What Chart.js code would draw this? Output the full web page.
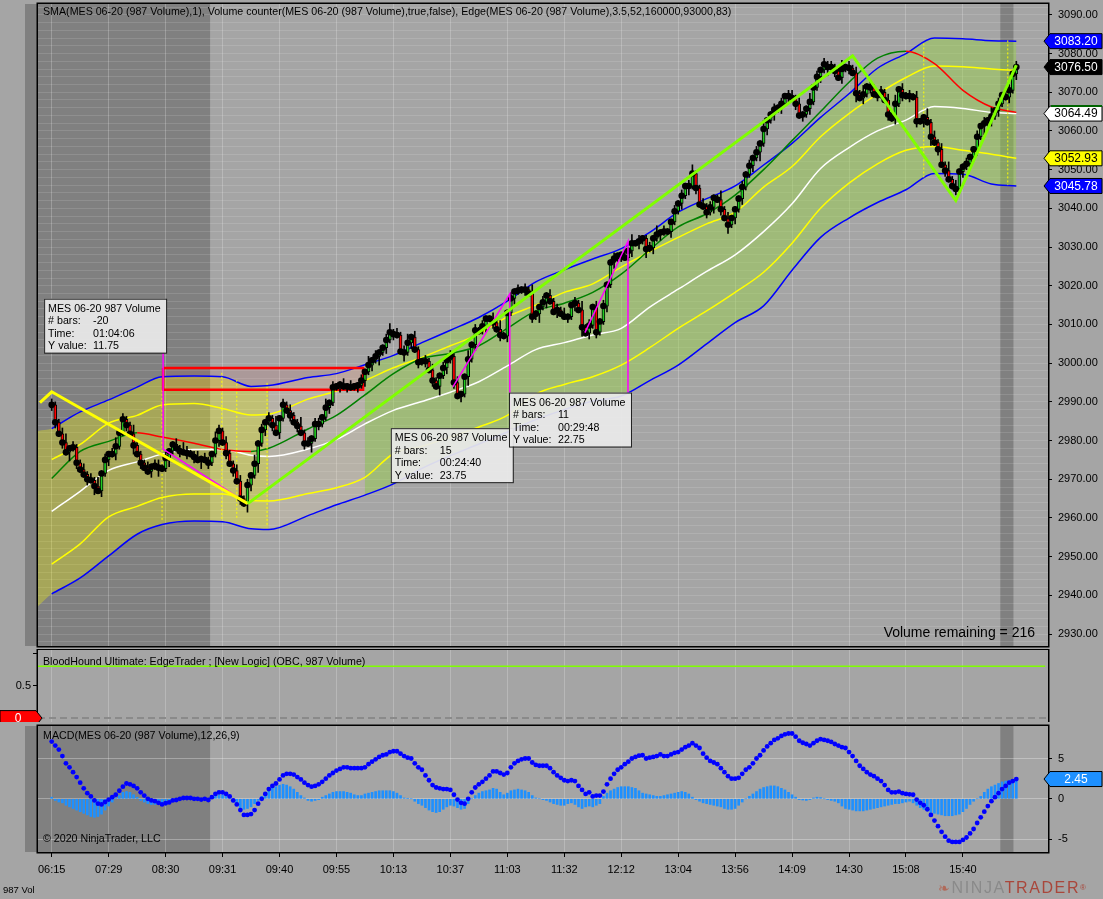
<!DOCTYPE html>
<html>
<head>
<meta charset="utf-8">
<title>MES 06-20 987 Volume</title>
<script src="https://cdn.jsdelivr.net/npm/chart.js@4.4.0/dist/chart.umd.min.js"></script>
<style>
  html, body { margin:0; padding:0; width:1103px; height:899px; overflow:hidden; background:#a5a5a5; font-family:Arial,"Liberation Sans",sans-serif; }
  canvas { position:absolute; left:0; }
  .lbl { position:absolute; font-size:10.67px; line-height:13px; color:#000; white-space:nowrap; }
</style>
</head>
<body>
<canvas id="priceChart" width="1103" height="650" style="top:0"></canvas>
<canvas id="edgeChart" width="1103" height="74" style="top:649px"></canvas>
<canvas id="macdChart" width="1103" height="177" style="top:722px"></canvas>
<div class="lbl" style="left:43px;top:5px">SMA(MES 06-20 (987 Volume),1), Volume counter(MES 06-20 (987 Volume),true,false), Edge(MES 06-20 (987 Volume),3.5,52,160000,93000,83)</div>
<div class="lbl" id="volRemain" style="right:68px;top:624px;font-size:14px;line-height:16px"></div>
<div class="lbl" style="left:43px;top:655px">BloodHound Ultimate: EdgeTrader ; [New Logic] (OBC, 987 Volume)</div>
<div class="lbl" style="left:43px;top:729px">MACD(MES 06-20 (987 Volume),12,26,9)</div>
<div class="lbl" style="left:43px;top:832px">© 2020 NinjaTrader, LLC</div>
<div class="lbl" style="left:3px;top:884px;font-size:9.5px;line-height:11px">987 Vol</div>
<div class="lbl" style="left:938px;top:879px;font-size:16px;line-height:18px;letter-spacing:1.6px"><span style="color:#b06a5a;font-size:14px">&#x2767;</span><span style="color:#8a8a8a">NINJA</span><span style="color:#a9473b">TRADER</span><span style="font-size:8px;color:#a9473b;vertical-align:top">®</span></div>
<script>
    var FONT = 'Arial, "Liberation Sans", sans-serif';
    Chart.defaults.font.family = FONT;
    Chart.defaults.font.size = 11;
    Chart.defaults.color = '#000';

    // ---- data ----
    var timeLabels = ['06:15','07:29','08:30','09:31','09:40','09:55','10:13','10:37','11:03','11:32','12:12','13:04','13:56','14:09','14:30','15:08','15:40'];

    var firstOpen = 2988.5;
    var closes = [2989.25,2984.75,2981.75,2979.5,2977,2978,2978.25,2974.25,2972.5,2971.25,
        2970,2969.75,2968.25,2967,2971.5,2975,2976.5,2976.5,2978.5,2982,
        2985.5,2984,2981.75,2978.75,2976.5,2974.25,2973,2972,2973.25,2973.5,
        2973,2972.75,2975.5,2977.25,2979,2978,2977.25,2977,2976.75,2976.5,
        2975.75,2975,2975.25,2975,2974.25,2976.5,2980,2982.5,2979.5,2976.75,
        2974,2972.25,2969.5,2965,2963.75,2968.5,2971,2974,2979.25,2982.75,
        2984.75,2985.75,2984,2982,2985.75,2989.25,2987.75,2986.5,2984.75,2983.75,
        2982,2979.25,2979.25,2980.5,2984.25,2984.25,2986,2988.5,2989.75,2993.75,
        2994,2994.5,2994,2994,2993.75,2994,2994.25,2995.5,2997.75,2999.5,
        3000.75,3001.75,3002.75,3004,3006,3008,3007.5,3007.25,3003,3002.75,
        3005.25,3006.75,3003.5,3000.25,3000.5,3000.5,2998.25,2995.5,2994,2996.75,
        2998.75,3000.75,3001.75,2995,2991.5,2992,2996.5,3001,3004.75,3008.5,
        3008.25,3009.5,3011.5,3011.5,3010.5,3008.75,3007.25,3007,3013,3016.75,
        3018.5,3018.75,3019,3019,3018,3012,3012.75,3014.5,3015.75,3017.5,
        3016,3013.25,3013.75,3012.75,3012,3012,3015,3015.5,3013.75,3009.25,
        3007.75,3009.75,3014.5,3008,3010.75,3014.75,3020.25,3026,3027,3027.75,
        3028,3027.25,3029,3031,3031,3031.5,3032.25,3029.5,3029.75,3032.25,
        3033.25,3033.75,3034,3034,3036.5,3039.25,3041.25,3043.25,3045.75,3045.75,
        3049,3045.25,3041,3040.5,3039,3040.25,3042.75,3042.25,3039.75,3037.5,
        3035.75,3037.5,3039.75,3042.5,3045.5,3048.75,3051,3053,3054.5,3056.75,
        3060.5,3062.75,3064.25,3065.5,3066,3067,3069,3069,3068.5,3067,
        3064,3064.25,3065.75,3067.5,3071.25,3074,3075.75,3077.25,3076.5,3076.5,
        3075.5,3073.75,3076,3076.5,3076.25,3075,3069.75,3068.5,3069.5,3071.5,
        3071.25,3069.5,3069.25,3070,3068,3064.25,3063.25,3067,3070.75,3069.25,
        3069,3069,3068.75,3062.5,3062.5,3063.5,3062.25,3058.5,3057,3055.25,
        3051.25,3049.75,3047.5,3045.75,3045,3049.5,3050.75,3051.5,3053.25,3055.25,
        3058.5,3061.25,3062,3062.75,3063.75,3065.25,3067,3069.25,3068.75,3070.5,
        3074.75,3076.5];
    // wick lengths above / below the body, in 0.75 pt steps
    var wickUp = "2112312112121312" + "1231211321121221" + "2112132112121132" + "1211221213121213" +
                 "1212113121221312" + "1121211213121123" + "1212312112121121" + "2121131212112131" +
                 "1212121311212121" + "2112131212121121" + "1213121121312112" + "1212311212113121" +
                 "1121212131121212" + "2121131212121131" + "2121312112121312" + "1212113121213121" + "1211212131211212";
    var wickDn = "1212131211213121" + "2121121312112131" + "1311212121312112" + "1212121321312121" +
                 "2112121213121121" + "1212112121213121" + "2113121212121312" + "1212131211212121" +
                 "2121121213121121" + "1212131212112121" + "2112121312121121" + "1213121121212131" +
                 "2121121312121212" + "1212121121312121" + "2131212121121212" + "1212121312121121" + "2121213121211212";

    // Edge bands, sampled at these bar numbers
    var bandX = [0,8,16,24,31,40,48,56,61,72,80,88,96,104,112,120,128,136,144,152,160,168,176,184,192,200,208,216,224,232,240,248,256,264,271];
    var upperBlue = [2983.1,2987.4,2990.5,2993.8,2996.5,2996.7,2996.5,2994,2994.2,2996.3,2997.3,2999.6,3002,3005.3,3008.5,3011.8,3016,3021,3024.1,3026.9,3029.6,3033.8,3039,3042.5,3045.8,3051.2,3056.8,3063.5,3069.6,3076.2,3080,3084,3083.8,3083.3,3083.2];
    var lowerBlue = [2940.4,2944.5,2950.2,2955.8,2958.3,2959.2,2959,2957.2,2957,2960.6,2963.4,2965.9,2968.8,2972.8,2976.1,2979.1,2982.2,2985.4,2988,2990.2,2991.5,2995.5,2999.5,3005,3010.5,3014.8,3024,3032.5,3037.5,3041.5,3044.8,3049,3048.8,3046.3,3045.78];
    var upperYellow = [2975.1,2979,2984.5,2986.5,2989.2,2989.6,2988.3,2986.6,2986.8,2990.7,2992.8,2995.5,2998.8,3001.5,3004.5,3007.5,3012,3015,3018.3,3020.5,3024.8,3028.8,3032.5,3036,3039,3045.5,3050.8,3058.5,3064.5,3069.5,3073.8,3076.8,3076.6,3076,3075.6];
    var lowerYellow = [2948.1,2953.3,2960.3,2963,2965.3,2966.2,2966.2,2964.5,2964.4,2966.3,2967.8,2970.5,2976.6,2978.5,2980.9,2983.5,2986.5,2992,2994.5,2996.5,2999.5,3004,3009,3013.5,3018.3,3023.5,3031,3040,3046.5,3051.5,3055,3056,3055,3054,3052.93];
    var midWhite = [2961.7,2966.9,2972.3,2974.5,2976.5,2977.7,2977.7,2976.2,2975.9,2977.8,2980.3,2984.3,2987.8,2990.1,2992.5,2995.2,2999.3,3003.5,3005.3,3007.3,3009,3014.5,3019.1,3023.7,3028,3034,3041.2,3050.3,3055.7,3060,3062.8,3066.3,3065.8,3064.8,3064.49];
    var trendAvg = [2970.2,2977.2,2979.8,2982,2980.9,2979.3,2977.7,2977.2,2978,2983,2986.5,2991.8,2997.3,3001.2,3002.5,3004.5,3009,3013.5,3015.5,3018.3,3023,3029.3,3035.2,3038.6,3043.4,3050,3057.5,3065,3072.6,3078.8,3080.6,3077.4,3070.5,3066.2,3064.8];
    // the band fill starts at the left edge of the panel, before the first bar
    var leadBar = -3.85, leadUpper = 2982.5, leadLower = 2937.2;
    var zoneBreaks = [-3.85, 61, 88, 271];

    var macdLine = [7.1,6.6,6.1,5.3,4.4,3.9,3.3,2.7,2.0,1.3,
        0.7,0.3,-0.2,-0.6,-0.7,-0.4,-0.1,0.2,0.5,1.0,
        1.5,1.9,1.8,1.6,1.3,0.8,0.4,0.0,-0.2,-0.3,
        -0.5,-0.7,-0.55,-0.45,-0.2,-0.15,0.0,0.1,0.1,0.1,
        0.0,0.0,-0.1,0.0,-0.15,0.2,0.6,0.8,0.8,0.6,
        0.3,-0.2,-0.7,-1.4,-2.0,-2.0,-1.9,-1.4,-0.6,0.0,
        0.6,1.2,1.6,1.9,2.4,2.9,3.1,3.1,3.0,2.7,
        2.4,2.0,1.7,1.5,1.6,1.8,2.1,2.5,2.9,3.2,
        3.5,3.7,3.9,3.9,3.8,3.8,3.8,3.8,3.9,4.3,
        4.6,4.9,5.2,5.4,5.5,5.8,5.9,5.9,5.6,5.3,
        5.1,5.0,4.4,3.9,3.6,2.9,2.3,1.7,1.4,1.3,
        1.2,1.2,1.1,0.5,-0.1,-0.5,-0.6,0.0,0.8,1.4,
        1.8,2.1,2.5,2.9,3.4,3.4,3.2,3.0,3.2,3.9,
        4.4,4.7,4.9,5.0,5.0,4.5,4.2,4.1,4.1,4.1,
        3.8,3.3,2.9,2.6,2.3,2.2,2.3,2.2,1.6,1.1,
        0.6,0.8,0.3,0.4,0.4,0.9,1.8,2.5,3.1,3.6,
        3.9,4.3,4.6,5.0,5.2,5.35,5.4,5.0,5.1,5.2,
        5.3,5.5,5.3,5.3,5.5,5.7,5.8,6.1,6.4,6.6,
        6.9,6.6,6.3,5.6,5.1,4.7,4.5,4.3,3.8,3.3,
        2.8,2.5,2.5,2.6,3.1,3.6,3.9,4.4,5.0,5.4,
        6.0,6.5,6.9,7.3,7.5,7.8,8.0,8.1,8.1,7.7,
        7.2,6.95,6.8,6.6,6.9,7.2,7.4,7.3,7.2,7.05,
        6.8,6.6,6.4,6.3,5.8,5.3,4.7,4.1,3.7,3.3,
        3.0,2.8,2.5,2.2,1.7,1.1,0.8,0.8,0.9,0.7,
        0.6,0.55,0.5,-0.1,-0.5,-0.8,-1.3,-2.0,-2.7,-3.4,
        -4.1,-4.7,-5.2,-5.35,-5.35,-5.35,-5.1,-4.8,-4.3,-3.75,
        -3.0,-2.3,-1.6,-0.9,-0.3,0.2,0.7,1.2,1.6,2.0,
        2.2,2.45];
    var macdHist = [0.2,-0.2,-0.4,-0.5,-0.8,-1.0,-1.2,-1.4,-1.6,-1.8,
        -2.0,-2.2,-2.3,-2.2,-1.9,-1.4,-0.9,-0.4,0.1,0.4,
        0.8,0.9,0.8,0.5,0.2,-0.2,-0.4,-0.6,-0.7,-0.7,
        -0.6,-0.6,-0.5,-0.4,-0.3,-0.2,-0.1,0.0,0.05,0.1,
        0.05,0.0,-0.05,0.0,-0.1,0.2,0.4,0.5,0.5,0.3,
        0.0,-0.4,-0.8,-1.1,-1.3,-1.2,-1.0,-0.6,-0.2,0.3,
        0.7,1.0,1.3,1.5,1.7,1.8,1.7,1.5,1.2,0.8,
        0.4,0.1,-0.2,-0.3,-0.2,-0.1,0.2,0.4,0.6,0.8,
        0.9,0.9,0.9,0.8,0.7,0.5,0.4,0.4,0.6,0.7,
        0.8,0.9,1.0,1.0,1.0,1.0,0.9,0.7,0.4,0.1,
        0.05,0.0,-0.3,-0.6,-0.8,-1.1,-1.4,-1.6,-1.7,-1.6,
        -1.3,-1.0,-0.8,-0.9,-1.1,-1.3,-1.2,-0.6,0.0,0.4,
        0.7,0.9,1.0,1.1,1.3,1.2,0.8,0.5,0.7,1.0,
        1.1,1.2,1.1,1.0,0.8,0.4,0.1,0.0,-0.1,-0.2,
        -0.4,-0.6,-0.7,-0.8,-0.8,-0.6,-0.5,-0.7,-1.0,-1.2,
        -1.0,-0.9,-1.0,-0.8,-0.6,0.3,0.7,1.0,1.2,1.4,
        1.5,1.5,1.5,1.4,1.3,1.0,0.7,0.6,0.5,0.4,
        0.3,0.3,0.4,0.5,0.6,0.7,0.8,0.9,0.8,0.6,
        0.2,-0.1,-0.3,-0.5,-0.6,-0.7,-0.8,-0.9,-1.0,-1.2,
        -1.3,-1.3,-1.2,-0.8,-0.4,0.0,0.3,0.6,0.9,1.2,
        1.4,1.5,1.6,1.6,1.5,1.3,1.1,0.8,0.5,0.2,
        -0.1,-0.15,-0.2,-0.1,0.1,0.2,0.15,0.0,-0.1,-0.2,
        -0.3,-0.5,-0.9,-1.2,-1.3,-1.4,-1.5,-1.5,-1.5,-1.4,
        -1.3,-1.2,-1.1,-1.0,-0.9,-0.8,-0.7,-0.6,-0.6,-0.5,
        -0.4,-0.3,-0.5,-0.8,-1.1,-1.3,-1.5,-1.7,-1.8,-1.9,
        -2.0,-2.1,-2.1,-2.1,-2.0,-1.9,-1.6,-1.2,-0.7,-0.3,
        0.0,0.3,0.8,1.2,1.5,1.7,1.9,2.1,2.2,2.3,
        2.4,2.5];

    // drawings on the price panel, [bar, price]
    var yellowLeg = [[-3.3, 2989.8], [0, 2992.6], [55.1, 2963.7]];
    var greenLegs = [[55.1, 2963.7], [225, 3079.4], [254, 3042], [271, 3077]];
    var redRect = [[31.3, 2998.75], [87.5, 2998.75], [87.5, 2993.1], [31.3, 2993.1], [31.3, 2998.75]];
    var eventLines = [[31, 2993.1, 2959.1], [47.8, 2997.5, 2959.8], [52, 2995.7, 2959.6], [60.5, 2994.9, 2957.6], [245, 3082.6, 3048], [268.6, 3083.4, 3046]];
    var rulers = [
        { path: [[31.3, 3002.7], [31.3, 2977.8], [55.1, 2963.7]], boxAt: 'start', bars: '-20', time: '01:04:06', yval: '11.75' },
        { path: [[112.7, 2993.9], [128.7, 3017.9], [128.7, 2983.2]], boxAt: 'end', bars: '15', time: '00:24:40', yval: '23.75' },
        { path: [[149.8, 3007.9], [161.9, 3031.5], [161.9, 2992.4]], boxAt: 'end', bars: '11', time: '00:29:48', yval: '22.75' }
    ];
    var shadeRanges = [[-3.85, 44.5], [266.5, 270.2]];
    var priceTags = [3083.20, 3076.50, 3064.49, 3052.93, 3045.78];
    var bhLevel = 0.8;
    var macdLast = 2.45;
    var volumeRemaining = 216;

    // ---- layout constants ----
    var X_MIN = -3.85, X_MAX = 279.9;
    var Y_MIN = 2926.92, Y_MAX = 3092.8;

    document.getElementById('volRemain').textContent = 'Volume remaining = ' + volumeRemaining;

    var bars = closes.map(function(c, i){ return i; });
    var opens = closes.map(function(c, i){ return i ? closes[i - 1] : firstOpen; });
    var highs = closes.map(function(c, i){ return Math.max(c, opens[i]) + Number(wickUp[i] || 1) * 0.75; });
    var lows = closes.map(function(c, i){ return Math.min(c, opens[i]) - Number(wickDn[i] || 1) * 0.75; });

    function xy(xs, ys){ return xs.map(function(x, i){ return {x: x, y: ys[i]}; }); }
    function pairs(list){ return list.map(function(p){ return {x: p[0], y: p[1]}; }); }
    function between(list, a, b){ return list.filter(function(p){ return p.x >= a && p.x <= b; }); }
    function broken(paths){
        var out = [];
        paths.forEach(function(path){
            path.forEach(function(p){ out.push({x: p[0], y: p[1]}); });
            out.push({x: path[path.length - 1][0], y: null});
        });
        return out;
    }

    var vGrid = function(c){ return (c.tick && c.tick.value >= 0 && c.tick.value <= 256) ? 'rgba(255,255,255,0.22)' : 'transparent'; };

    function xAxis(showLabels){
        return {
            type: 'linear', min: X_MIN, max: X_MAX, offset: false,
            afterFit: function(s){ s.height = showLabels ? 47 : 0; s.paddingLeft = 0; s.paddingRight = 0; },
            ticks: { display: showLabels, stepSize: 16, includeBounds: false, autoSkip: false, maxRotation: 0, padding: 6,
                callback: function(v){ return (v >= 0 && v <= 256 && v % 16 === 0) ? timeLabels[v / 16] : ''; } },
            grid: { offset: false, color: vGrid, drawTicks: showLabels, tickLength: 5,
                tickColor: function(c){ return (c.tick && c.tick.value <= 256) ? '#000' : 'transparent'; } },
            border: { display: false }
        };
    }

    function bgPlugin(shade){
        return { id: 'bg', beforeDraw: function(ch){
            var ctx = ch.ctx, a = ch.chartArea, x = ch.scales.x;
            ctx.save();
            ctx.fillStyle = '#a5a5a5';
            ctx.fillRect(0, 0, ch.width, ch.height);
            if (shade) {
                ctx.fillStyle = '#808080';
                ctx.fillRect(25, a.top, a.left - 25, a.bottom - a.top);
                shadeRanges.forEach(function(r){
                    var x0 = Math.max(a.left, x.getPixelForValue(r[0])), x1 = x.getPixelForValue(r[1]);
                    ctx.fillRect(x0, a.top, x1 - x0, a.bottom - a.top);
                });
            }
            ctx.restore();
        }};
    }
    var framePlugin = { id: 'frame', afterDatasetsDraw: function(ch){
        var ctx = ch.ctx, a = ch.chartArea;
        ctx.save();
        ctx.strokeStyle = '#000';
        ctx.lineWidth = 1.5;
        ctx.strokeRect(a.left - 0.75, a.top - 0.75, a.right - a.left + 1.5, a.bottom - a.top + 1.5);
        ctx.restore();
    }};

    function tag(ctx, tipX, y, dir, w, bg, fg, text){
        var h = 15, n = 6;
        ctx.save();
        ctx.beginPath();
        ctx.moveTo(tipX, y);
        ctx.lineTo(tipX + dir * n, y - h / 2);
        ctx.lineTo(tipX + dir * w, y - h / 2);
        ctx.lineTo(tipX + dir * w, y + h / 2);
        ctx.lineTo(tipX + dir * n, y + h / 2);
        ctx.closePath();
        ctx.fillStyle = bg;
        ctx.fill();
        ctx.strokeStyle = '#000';
        ctx.lineWidth = 1;
        ctx.stroke();
        ctx.fillStyle = fg;
        ctx.font = '12px ' + FONT;
        ctx.textAlign = 'center';
        ctx.textBaseline = 'middle';
        ctx.fillText(text, tipX + dir * (n + (w - n) / 2), y + 0.5);
        ctx.restore();
    }

    function infoBox(ctx, ax, ay, below, r){
        var w = 122, h = 54, left = ax - w + 3, top = below ? ay : ay - h;
        var rows = [['MES 06-20 987 Volume', ''], ['# bars:', r.bars], ['Time:', r.time], ['Y value:', r.yval]];
        ctx.save();
        ctx.fillStyle = 'rgba(234,234,234,0.93)';
        ctx.fillRect(left, top, w, h);
        ctx.strokeStyle = '#222';
        ctx.lineWidth = 1;
        ctx.strokeRect(left + 0.5, top + 0.5, w, h);
        ctx.fillStyle = '#000';
        ctx.font = '10.67px ' + FONT;
        ctx.textAlign = 'left';
        ctx.textBaseline = 'middle';
        rows.forEach(function(row, k){
            ctx.fillText(row[0], left + 4, top + 10 + k * 12.6);
            if (row[1]) ctx.fillText(row[1], left + 49, top + 10 + k * 12.6);
        });
        ctx.restore();
    }

    var priceOverlay = { id: 'priceOverlay', afterDraw: function(ch){
        var ctx = ch.ctx, x = ch.scales.x, y = ch.scales.y, a = ch.chartArea;
        rulers.forEach(function(r){
            var p = r.boxAt === 'start' ? r.path[0] : r.path[r.path.length - 1];
            infoBox(ctx, x.getPixelForValue(p[0]), y.getPixelForValue(p[1]), r.boxAt !== 'start', r);
        });
        var styles = [['#0000ff', '#fff'], ['#000000', '#fff'], ['#ffffff', '#000'], ['#ffff00', '#000'], ['#0000ff', '#fff']];
        priceTags.forEach(function(v, i){
            var py = y.getPixelForValue(v);
            tag(ctx, a.right - 4, py, 1, 58, styles[i][0], styles[i][1], v.toFixed(2));
            if (i === 2) {
                ctx.save();
                ctx.strokeStyle = '#006400';
                ctx.lineWidth = 2;
                ctx.beginPath();
                ctx.moveTo(a.right + 3, py - 7.5);
                ctx.lineTo(a.right + 54, py - 7.5);
                ctx.stroke();
                ctx.restore();
            }
        });
    }};

    // ---- price panel ----
    var zoneFill = ['rgba(255,255,0,0.3)', 'rgba(255,228,180,0.2)', 'rgba(150,215,60,0.42)'];
    var fillUpper = [{x: leadBar, y: leadUpper}].concat(xy(bandX, upperBlue));
    var fillLower = [{x: leadBar, y: leadLower}].concat(xy(bandX, lowerBlue));
    var mainSets = [];
    for (var z = 0; z < zoneBreaks.length - 1; z++) {
        mainSets.push({ data: between(fillUpper, zoneBreaks[z], zoneBreaks[z + 1]), fill: '+1', backgroundColor: zoneFill[z],
            borderWidth: 0, borderColor: 'transparent', pointRadius: 0, cubicInterpolationMode: 'monotone', order: 30 });
        mainSets.push({ data: between(fillLower, zoneBreaks[z], zoneBreaks[z + 1]), fill: false,
            borderWidth: 0, borderColor: 'transparent', pointRadius: 0, cubicInterpolationMode: 'monotone', order: 30 });
    }
    function bandLine(ys, color, order){
        return { data: xy(bandX, ys), borderColor: color, borderWidth: 1.5, pointRadius: 0, fill: false, cubicInterpolationMode: 'monotone', order: order };
    }
    mainSets.push(bandLine(upperBlue, '#0000ff', 20));
    mainSets.push(bandLine(lowerBlue, '#0000ff', 20));
    mainSets.push(bandLine(upperYellow, '#ffff00', 19));
    mainSets.push(bandLine(lowerYellow, '#ffff00', 19));
    mainSets.push(bandLine(midWhite, '#ffffff', 18));
    var avg = bandLine(trendAvg, '#008000', 17);
    avg.segment = { borderColor: function(c){ return c.p1.parsed.y >= c.p0.parsed.y ? '#008000' : '#ff0000'; } };
    mainSets.push(avg);
    mainSets.push({ data: broken(eventLines.map(function(e){ return [[e[0], e[1]], [e[0], e[2]]]; })), borderColor: '#ffff00',
        borderWidth: 1, borderDash: [2, 2], pointRadius: 0, fill: false, order: 12 });
    mainSets.push({ data: pairs(redRect), borderColor: '#ff0000', borderWidth: 2.5, fill: 'shape',
        backgroundColor: 'rgba(255,0,0,0.07)', pointRadius: 0, order: 11 });
    mainSets.push({ type: 'bar', data: bars.map(function(i){ return {x: i, y: [lows[i], highs[i]]}; }),
        backgroundColor: '#000', barThickness: 1, grouped: false, order: 8 });
    mainSets.push({ type: 'bar', data: bars.map(function(i){ return {x: i, y: [opens[i], closes[i]]}; }),
        backgroundColor: bars.map(function(i){ return closes[i] > opens[i] ? '#22cc22' : (closes[i] < opens[i] ? '#ff0000' : '#000'); }),
        borderColor: '#000', borderWidth: 1, borderSkipped: false, barThickness: 3, minBarLength: 1, grouped: false, order: 7 });
    mainSets.push({ data: xy(bars, closes), showLine: false, pointRadius: 3.3, pointBackgroundColor: '#000', pointBorderWidth: 0, order: 6 });
    mainSets.push({ data: broken(rulers.map(function(r){ return r.path; })), borderColor: '#ff00ff', borderWidth: 1.5, pointRadius: 0, fill: false, order: 3 });
    mainSets.push({ data: pairs(yellowLeg), borderColor: '#ffff00', borderWidth: 3, pointRadius: 0, fill: false, order: 2 });
    mainSets.push({ data: pairs(greenLegs), borderColor: '#80ff00', borderWidth: 3, pointRadius: 0, fill: false, order: 1 });

    var commonPlugins = { legend: { display: false }, tooltip: { enabled: false }, filler: { drawTime: 'beforeDatasetsDraw', propagate: false } };

    new Chart(document.getElementById('priceChart'), {
        type: 'line',
        data: { datasets: mainSets },
        options: {
            responsive: false, animation: false, events: [],
            layout: { padding: { left: 38, right: 0, top: 0, bottom: 1 } },
            plugins: commonPlugins,
            scales: {
                x: xAxis(false),
                y: {
                    position: 'right', min: Y_MIN, max: Y_MAX,
                    afterFit: function(s){ s.width = 55; s.paddingTop = 0; s.paddingBottom = 0; },
                    ticks: { stepSize: 2, includeBounds: false, autoSkip: false, padding: 6,
                        callback: function(v){ return Math.round(v) % 10 === 0 ? v.toFixed(2) : ''; } },
                    grid: { color: 'rgba(255,255,255,0.12)', tickLength: 4,
                        tickColor: function(c){ return (c.tick && Math.round(c.tick.value) % 10 === 0) ? '#000' : 'transparent'; } },
                    border: { display: false }
                }
            }
        },
        plugins: [bgPlugin(true), framePlugin, priceOverlay]
    });

    // ---- BloodHound panel ----
    var edgeOverlay = {
        id: 'edgeOverlay',
        beforeDatasetsDraw: function(ch){
            var ctx = ch.ctx, a = ch.chartArea, y0 = ch.scales.y.getPixelForValue(0);
            ctx.save();
            ctx.strokeStyle = '#8a8a8a';
            ctx.lineWidth = 2;
            ctx.setLineDash([7, 4]);
            ctx.beginPath();
            ctx.moveTo(a.left, y0);
            ctx.lineTo(a.right, y0);
            ctx.stroke();
            ctx.restore();
        },
        afterDraw: function(ch){
            var y0 = ch.scales.y.getPixelForValue(0);
            tag(ch.ctx, ch.chartArea.left + 4, y0, -1, 42, '#ff0000', '#fff', '0');
        }
    };
    new Chart(document.getElementById('edgeChart'), {
        type: 'line',
        data: { datasets: [{ data: [{x: X_MIN, y: bhLevel}, {x: X_MAX - 0.8, y: bhLevel}], borderColor: '#7fff00', borderWidth: 1.5, pointRadius: 0 }] },
        options: {
            responsive: false, animation: false, events: [],
            layout: { padding: { left: 0, right: 55, top: 1, bottom: 1 } },
            plugins: commonPlugins,
            scales: {
                x: xAxis(false),
                y: {
                    position: 'left', min: -0.06, max: 1.05,
                    afterFit: function(s){ s.width = 38; s.paddingTop = 0; s.paddingBottom = 0; },
                    ticks: { stepSize: 0.5, includeBounds: false, autoSkip: false, padding: 2,
                        callback: function(v){ return v === 0.5 ? '0.5' : ''; } },
                    grid: { color: 'transparent', tickLength: 5,
                        tickColor: function(c){ return (c.tick && c.tick.value > 0) ? '#000' : 'transparent'; } },
                    border: { display: false }
                }
            }
        },
        plugins: [bgPlugin(false), framePlugin, edgeOverlay]
    });

    // ---- MACD panel ----
    var macdOverlay = { id: 'macdOverlay', afterDraw: function(ch){
        tag(ch.ctx, ch.chartArea.right - 4, ch.scales.y.getPixelForValue(macdLast), 1, 58, '#1e90ff', '#fff', macdLast.toFixed(2));
    }};
    new Chart(document.getElementById('macdChart'), {
        type: 'line',
        data: { datasets: [
            { type: 'bar', data: xy(bars, macdHist), backgroundColor: '#1e90ff', barThickness: 2, grouped: false, order: 2 },
            { data: xy(bars, macdLine), showLine: false, pointRadius: 2.4, pointBackgroundColor: '#0000ff', pointBorderWidth: 0, order: 1 }
        ]},
        options: {
            responsive: false, animation: false, events: [],
            layout: { padding: { left: 38, right: 0, top: 1, bottom: 0 } },
            plugins: commonPlugins,
            scales: {
                x: xAxis(true),
                y: {
                    position: 'right', min: -6.6, max: 9.03,
                    afterFit: function(s){ s.width = 55; s.paddingTop = 0; s.paddingBottom = 0; },
                    ticks: { stepSize: 5, includeBounds: false, autoSkip: false, padding: 6,
                        callback: function(v){ return String(v); } },
                    grid: { color: 'rgba(255,255,255,0.3)', tickLength: 4, tickColor: '#000' },
                    border: { display: false }
                }
            }
        },
        plugins: [bgPlugin(true), framePlugin, macdOverlay]
    });
</script>
</body>
</html>
